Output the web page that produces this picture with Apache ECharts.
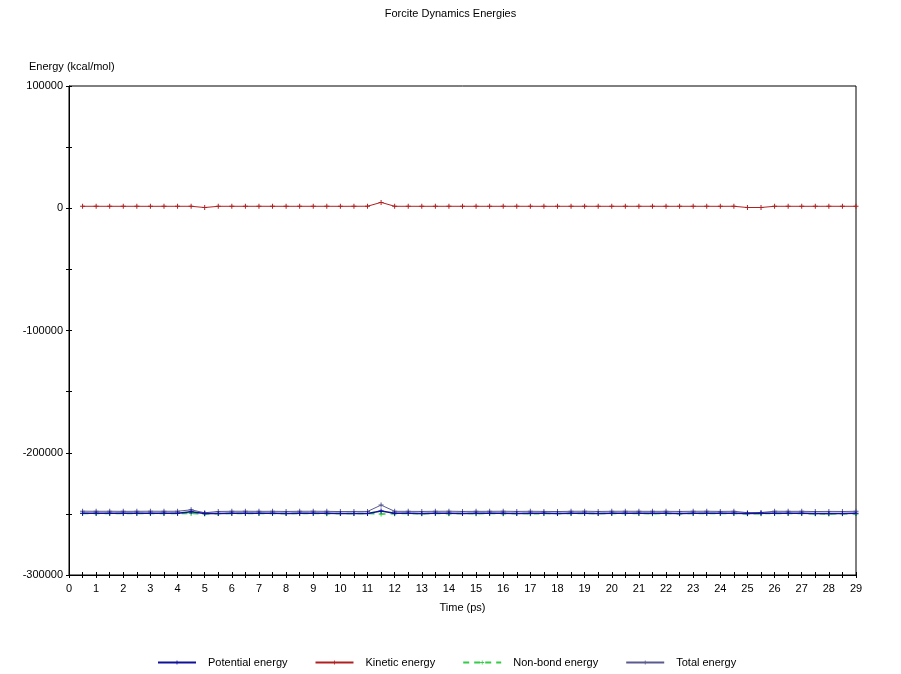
<!DOCTYPE html>
<html>
<head>
<meta charset="utf-8">
<script src="https://cdn.jsdelivr.net/npm/echarts@6/dist/echarts.min.js"></script>
<style>
html,body{margin:0;padding:0;background:#fff;}
#chart{width:901px;height:674px;}
</style>
</head>
<body>
<div id="chart"></div>
<script>
var times = [0.5,1,1.5,2,2.5,3,3.5,4,4.5,5,5.5,6,6.5,7,7.5,8,8.5,9,9.5,10,10.5,11,11.5,12,12.5,13,13.5,14,14.5,15,15.5,16,16.5,17,17.5,18,18.5,19,19.5,20,20.5,21,21.5,22,22.5,23,23.5,24,24.5,25,25.5,26,26.5,27,27.5,28,28.5,29];
var potential = [-249400,-249500,-249450,-249550,-249500,-249400,-249500,-249450,-248300,-249700,
  -249600,-249500,-249450,-249550,-249500,-249600,-249500,-249450,-249550,-249700,
  -249600,-249650,-247600,-249500,-249550,-249600,-249500,-249450,-249600,-249550,
  -249500,-249450,-249600,-249500,-249550,-249700,-249500,-249450,-249600,-249500,
  -249450,-249500,-249550,-249500,-249600,-249500,-249450,-249550,-249500,-249600,
  -249500,-249450,-249550,-249500,-249700,-249600,-249650,-249500];
var kinetic = [1600,1620,1590,1610,1600,1580,1610,1600,1620,600,
  1590,1610,1600,1620,1600,1590,1610,1600,1620,1580,
  1600,1650,4800,1600,1610,1590,1600,1620,1600,1610,
  1590,1600,1620,1600,1580,1610,1600,1620,1590,1600,
  1610,1600,1620,1590,1600,1610,1600,1580,1620,600,
  620,1600,1610,1590,1600,1620,1600,1610];
var nonbond = [-249600,-249700,-249600,-249650,-249700,-249600,-249650,-249700,-249600,-250100,
  -249700,-249650,-249700,-249600,-249750,-249700,-249650,-249700,-249800,-249700,
  -249650,-249700,-250100,-249800,-249700,-249900,-249700,-249800,-249650,-249900,
  -249700,-249800,-249700,-249900,-249750,-249700,-249650,-249700,-249750,-249700,
  -249650,-249700,-249900,-249700,-249800,-249700,-249650,-249700,-249750,-249900,
  -249800,-249700,-249650,-249750,-249900,-250100,-249900,-250000];
var total = [-247800,-247880,-247860,-247940,-247900,-247820,-247890,-247850,-246680,-249100,
  -248010,-247890,-247850,-247930,-247900,-248010,-247890,-247850,-247930,-248120,
  -248000,-248000,-242800,-247900,-247940,-248010,-247900,-247830,-248000,-247940,
  -247910,-247850,-247980,-247900,-247970,-248090,-247900,-247830,-248010,-247900,
  -247840,-247900,-247930,-247910,-248000,-247890,-247850,-247970,-247880,-249000,
  -248880,-247850,-247940,-247910,-248100,-247980,-248050,-247890];
var seriesNames = ['Potential energy','Kinetic energy','Non-bond energy','Total energy'];
var seriesColors = ['#10109a','#b02020','#33cc44','#5a5a90'];

var FONT = 'Liberation Sans';
function pairs(arr){ return times.map(function(t,i){ return [t, arr[i]]; }); }

var chart = echarts.init(document.getElementById('chart'), null, {renderer:'canvas'});

var xBase = {
  type:'value', min:0, max:29, interval:1, gridIndex:0,
  splitLine:{show:false}
};
var yBase = {
  type:'value', min:-300000, max:100000, interval:100000, gridIndex:0,
  splitLine:{show:false}
};

// small "+" marker: horizontal part sits on the line, vertical part is the visible tick
var CROSS_SYMBOL = 'path://M0,2 L5,2 L5,3 L0,3 Z M2,0 L3,0 L3,5 L2,5 Z';

function mk(name, data, color, width, dash, z){
  return {
    name:name, type:'line', data:pairs(data), z:z,
    xAxisIndex:0, yAxisIndex:0,
    symbol:CROSS_SYMBOL, symbolSize:5, showSymbol:true,
    itemStyle:{color:color, borderWidth:0},
    lineStyle:{color:color, width:width, type:dash},
    emphasis:{disabled:true},
    animation:false
  };
}

chart.setOption({
  animation:false,
  backgroundColor:'#ffffff',
  textStyle:{fontFamily:FONT},
  title:{
    text:'Forcite Dynamics Energies', left:'center', top:3,
    textStyle:{fontFamily:FONT, fontSize:11, fontWeight:'normal', color:'#000'}
  },
  grid:{left:69, right:45, top:86, bottom:99, show:true, borderColor:'#000', borderWidth:1, backgroundColor:'transparent', containLabel:false, outerBoundsMode:'none'},
  legend:{
    data:seriesNames,
    bottom:1, left:152,
    itemWidth:38, itemHeight:5, itemGap:27,
    textStyle:{fontFamily:FONT, fontSize:11, color:'#000', padding:[0,0,0,7]}
  },
  xAxis:[
    Object.assign({}, xBase, {
      position:'bottom',
      name:'Time (ps)', nameLocation:'middle', nameGap:27,
      nameTextStyle:{fontFamily:FONT, fontSize:11, color:'#000'},
      axisLine:{show:true, onZero:false, lineStyle:{color:'#000', width:1}},
      axisTick:{show:true, length:3, lineStyle:{color:'#000'}},
      minorTick:{show:true, splitNumber:2, length:3, lineStyle:{color:'#000'}},
      axisLabel:{show:true, margin:8, fontFamily:FONT, fontSize:11, color:'#000'}
    }),
    Object.assign({}, xBase, {
      position:'bottom',
      axisLine:{show:false, onZero:false},
      axisTick:{show:true, inside:true, length:3, lineStyle:{color:'#000'}},
      minorTick:{show:true, splitNumber:2, length:3, lineStyle:{color:'#000'}},
      axisLabel:{show:false}
    })
  ],
  yAxis:[
    Object.assign({}, yBase, {
      position:'left',
      name:'Energy (kcal/mol)', nameLocation:'end', nameGap:14,
      nameTextStyle:{fontFamily:FONT, fontSize:11, color:'#000', align:'left', padding:[0,0,0,-40]},
      axisLine:{show:true, onZero:false, lineStyle:{color:'#000', width:1}},
      axisTick:{show:true, length:3, lineStyle:{color:'#000'}},
      minorTick:{show:true, splitNumber:2, length:3, lineStyle:{color:'#000'}},
      axisLabel:{show:true, margin:6, fontFamily:FONT, fontSize:11, color:'#000',
        formatter:function(v){ return String(v); }}
    }),
    Object.assign({}, yBase, {
      position:'left', offset:0,
      axisLine:{show:false, onZero:false},
      axisTick:{show:true, inside:true, length:3, lineStyle:{color:'#000'}},
      minorTick:{show:true, splitNumber:2, length:3, lineStyle:{color:'#000'}},
      axisLabel:{show:false}
    })
  ],
  series:[
    mk(seriesNames[0], potential, seriesColors[0], 1.5, 'solid', 4),
    mk(seriesNames[1], kinetic, seriesColors[1], 1, 'solid', 3),
    mk(seriesNames[2], nonbond, seriesColors[2], 1.5, [6,5], 2),
    mk(seriesNames[3], total, seriesColors[3], 1, 'solid', 3)
  ]
});
</script>
</body>
</html>
